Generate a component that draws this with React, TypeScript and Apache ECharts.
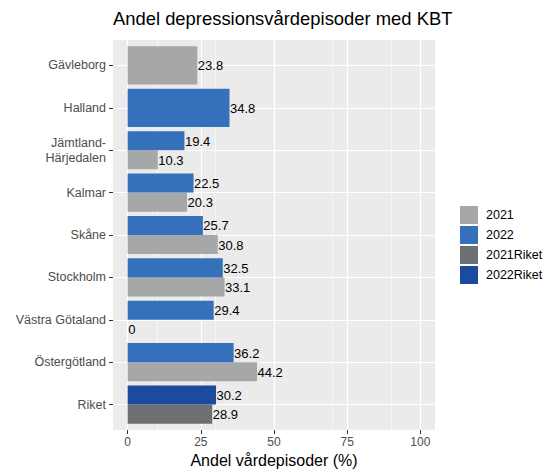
import React, { useEffect, useRef } from "react";
import * as echarts from "echarts";

const categories = [
  "Gävleborg",
  "Halland",
  "Jämtland-\nHärjedalen",
  "Kalmar",
  "Skåne",
  "Stockholm",
  "Västra Götaland",
  "Östergötland",
  "Riket",
];
const values2021: (number | null)[] = [23.8, null, 10.3, 20.3, 30.8, 33.1, 0, 44.2, null];
const values2022: (number | null)[] = [null, 34.8, 19.4, 22.5, 25.7, 32.5, 29.4, 36.2, null];
const values2021Riket: (number | null)[] = [null, null, null, null, null, null, null, null, 28.9];
const values2022Riket: (number | null)[] = [null, null, null, null, null, null, null, null, 30.2];

const xTicks = [0, 25, 50, 75, 100];

const groups = [
  { name: "2021", values: values2021, color: "#A5A7A8" },
  { name: "2022", values: values2022, color: "#3570BA" },
  { name: "2021Riket", values: values2021Riket, color: "#6E7174" },
  { name: "2022Riket", values: values2022Riket, color: "#1B4B9E" },
];
// top-to-bottom order inside each category (dodge)
const stackOrder = ["2022", "2021", "2022Riket", "2021Riket"];

const FONT = "Liberation Sans, Arial, Helvetica, sans-serif";

function buildData(groupName: string) {
  const g = groups.find((x) => x.name === groupName)!;
  const out: number[][] = [];
  categories.forEach((_, i) => {
    const v = g.values[i];
    if (v === null) return;
    const present = stackOrder.filter((n) => {
      const gg = groups.find((x) => x.name === n)!;
      return gg.values[i] !== null;
    });
    const n = present.length;
    const w = 0.9 / n;
    const k = present.indexOf(groupName);
    const center = i - 0.45 + w * (k + 0.5);
    out.push([v, center, w / 2]);
  });
  return out;
}

export default function App() {
  const ref = useRef<HTMLDivElement>(null);
  useEffect(() => {
    if (!ref.current) return;
    const chart = echarts.init(ref.current, undefined, { renderer: "svg" });

    const barSeries = groups.map((g) => ({
      type: "custom",
      name: g.name,
      z: 3,
      itemStyle: { color: g.color },
      data: buildData(g.name),
      renderItem: (params: any, api: any) => {
        const v = api.value(0);
        const c = api.value(1);
        const h = api.value(2);
        const p0 = api.coord([0, c - h]);
        const p1 = api.coord([v, c + h]);
        const x = Math.min(p0[0], p1[0]);
        const y = Math.min(p0[1], p1[1]);
        const w = Math.abs(p1[0] - p0[0]);
        const hh = Math.abs(p1[1] - p0[1]);
        return {
          type: "group",
          children: [
            { type: "rect", shape: { x, y, width: w, height: hh }, style: { fill: g.color } },
            {
              type: "text",
              x: x + w + 0.5,
              y: y + hh / 2 + 0.5,
              style: {
                text: String(v),
                fill: "#000",
                fontSize: 13,
                fontFamily: FONT,
                align: "left",
                verticalAlign: "middle",
              },
            },
          ],
        };
      },
    }));

    const option: any = {
      animation: false,
      title: {
        text: "Andel depressionsvårdepisoder med KBT",
        left: 113,
        top: 9,
        padding: 0,
        textStyle: { fontSize: 18.4, fontWeight: "normal", color: "#000", fontFamily: FONT },
      },
      legend: {
        data: groups.map((g) => g.name),
        orient: "vertical",
        left: 460,
        top: 206,
        padding: 0,
        itemWidth: 18,
        itemHeight: 18,
        itemGap: 2,
        icon: "rect",
        textStyle: { fontSize: 12.5, color: "#000", fontFamily: FONT, padding: [0, 0, 0, 3] },
      },
      grid: {
        left: 113,
        top: 40,
        width: 322,
        height: 390,
        show: true,
        backgroundColor: "#EBEBEB",
        borderWidth: 0,
        containLabel: false,
        outerBoundsMode: "none",
      },
      xAxis: {
        type: "value",
        min: -5,
        max: 105,
        splitLine: { show: true, lineStyle: { color: "#FFFFFF", width: 1.2 } },
        minorTick: { show: false, splitNumber: 2 },
        minorSplitLine: { show: true, lineStyle: { color: "#FFFFFF", width: 0.6 } },
        axisLine: { show: false, onZero: false },
        axisTick: { show: true, customValues: xTicks, length: 4, lineStyle: { color: "#333" } },
        axisLabel: {
          customValues: xTicks,
          color: "#4D4D4D",
          fontSize: 12,
          fontFamily: FONT,
          margin: 6,
        },
        name: "Andel vårdepisoder (%)",
        nameLocation: "middle",
        nameGap: 20,
        nameTextStyle: { fontSize: 16, color: "#000", fontFamily: FONT, verticalAlign: "top" },
      },
      yAxis: {
        type: "value",
        inverse: true,
        min: -0.6,
        max: 8.6,
        splitLine: { show: true, lineStyle: { color: "#FFFFFF", width: 1.2 } },
        axisLine: { show: false, onZero: false },
        axisTick: {
          show: true,
          customValues: categories.map((_, i) => i),
          length: 4,
          lineStyle: { color: "#333" },
        },
        axisLabel: {
          customValues: categories.map((_, i) => i),
          formatter: (v: number) => categories[Math.round(v)] ?? "",
          color: "#4D4D4D",
          fontSize: 12.5,
          fontFamily: FONT,
          margin: 7,
          lineHeight: 15,
          align: "right",
        },
      },
      series: barSeries,
    };
    chart.setOption(option);
    return () => chart.dispose();
  }, []);

  return (
    <div
      ref={ref}
      style={{ position: "fixed", left: 0, top: 0, width: 546, height: 469, background: "#fff" }}
    />
  );
}
